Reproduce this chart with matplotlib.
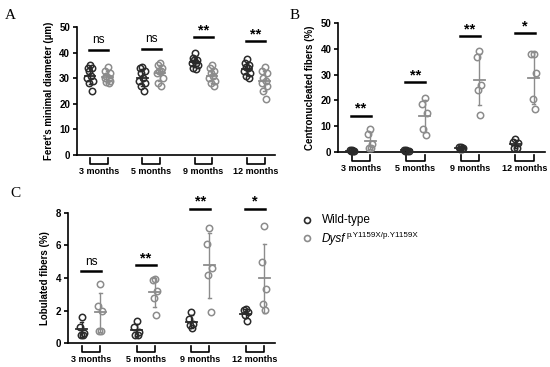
import numpy as np
import matplotlib.pyplot as plt
from matplotlib.transforms import blended_transform_factory

plt.rcParams["font.family"] = ["Liberation Sans", "DejaVu Sans"]

months = ["3 months", "5 months", "9 months", "12 months"]

# Panel A - Feret's minimal diameter (µm)
feret_wt = [
    [35, 34, 34, 33, 31, 30, 29, 28, 25],
    [34.5, 34, 33, 32, 30, 29, 28, 27, 25],
    [40, 38, 37, 37, 36, 36, 35, 34, 33.5],
    [37.5, 36, 35, 34.5, 34, 33, 32, 31, 30],
]
feret_mut = [
    [34.5, 33, 32, 31, 30, 30, 29, 28.5, 28],
    [36, 35, 34, 33, 33, 32, 30, 28, 27],
    [35, 34, 33, 32, 31, 30, 29, 28, 27],
    [34.5, 33, 32, 30, 29, 28, 27, 25, 22],
]
feret_sig = ["ns", "ns", "**", "**"]
feret_sig_y = [41, 41.5, 46, 44.5]

# Panel B - centronucleated fibers (%)
centro_wt = [
    [0.8, 0.6, 0.5, 0.4, 0.3],
    [0.9, 0.7, 0.5, 0.4, 0.3],
    [2.0, 1.8, 1.5, 1.0, 1.0],
    [5.0, 4.0, 3.5, 1.5, 1.5],
]
centro_mut = [
    [8.8, 7.0, 3.0, 1.5, 1.5],
    [21, 18.5, 15, 9, 6.5],
    [39, 37, 26, 24, 14.5],
    [38, 38, 30.5, 20.5, 16.5],
]
centro_sig = ["**", "**", "**", "*"]
centro_sig_y = [14, 27, 45, 46]

# Panel C - lobulated fibers (%)
lob_wt = [
    [1.6, 1.0, 0.6, 0.5, 0.5],
    [1.35, 1.0, 0.7, 0.5, 0.5],
    [1.9, 1.5, 1.2, 1.1, 0.9],
    [2.1, 2.05, 1.9, 1.7, 1.35],
]
lob_mut = [
    [3.65, 2.3, 2.0, 0.75, 0.75],
    [3.95, 3.85, 3.2, 2.8, 1.75],
    [7.1, 6.1, 4.6, 4.2, 1.9],
    [7.2, 5.0, 3.3, 2.4, 2.05],
]
lob_sig = ["ns", "**", "**", "*"]
lob_sig_y = [4.4, 4.8, 8.25, 8.25]

WT_COL = "#2a2a2a"
MUT_COL = "#8c8c8c"
FIG_H = 367

fig = plt.figure(figsize=(5.5, 3.67), dpi=100)


def jitter(n):
    offs = [0, -0.12, 0.12, -0.06, 0.06, -0.17, 0.17, -0.09, 0.09]
    return np.array(offs[:n])


def panel(rect, wt, mut, sig, sig_y, ymax, ystep, ylabel):
    ax = fig.add_axes(rect)
    for i in range(len(months)):
        for vals, x0, col in ((wt[i], 3 * i, WT_COL), (mut[i], 3 * i + 1, MUT_COL)):
            vals = np.array(vals, dtype=float)
            ax.plot(x0 + jitter(len(vals)), vals, "o", ms=4.6, mfc="none",
                    mec=col, mew=1.1, clip_on=False, zorder=3)
            m, s = vals.mean(), vals.std(ddof=1)
            ax.plot([x0 - 0.3, x0 + 0.3], [m, m], color=col, lw=1.3, zorder=4)
            ax.plot([x0, x0], [m - s, m + s], color=col, lw=1.0, zorder=4)
            ax.plot([x0 - 0.08, x0 + 0.08], [m - s, m - s], color=col, lw=1.0)
            ax.plot([x0 - 0.08, x0 + 0.08], [m + s, m + s], color=col, lw=1.0)
        # significance bar
        ax.plot([3 * i - 0.05, 3 * i + 1.05], [sig_y[i], sig_y[i]], color="black",
                lw=1.8, clip_on=False)
        if sig[i] == "ns":
            ax.text(3 * i + 0.5, sig_y[i] + ymax * 0.03, "ns", ha="center", va="bottom",
                    fontsize=8.5)
        else:
            ax.text(3 * i + 0.5, sig_y[i] + ymax * 0.0, sig[i], ha="center", va="bottom",
                    fontsize=10.5, fontweight="bold")

    ax.set_xlim(-0.75, 10.6)
    ax.set_ylim(0, ymax)
    ax.set_yticks(np.arange(0, ymax + ystep / 2, ystep))
    ax.set_xticks([])
    for sp in ("top", "right"):
        ax.spines[sp].set_visible(False)
    for sp in ("left", "bottom"):
        ax.spines[sp].set_linewidth(1.2)
    ax.tick_params(axis="y", length=3, width=1.2, labelsize=7, pad=2)
    for lab in ax.get_yticklabels():
        lab.set_fontweight("bold")
    ax.set_ylabel(ylabel, fontsize=7, fontweight="bold", labelpad=4)

    # group brackets under the axis
    h_px = rect[3] * FIG_H
    tr = blended_transform_factory(ax.transData, ax.transAxes)
    y1, y2, yt = -3 / h_px, -9 / h_px, -12 / h_px
    for i, lab in enumerate(months):
        a, b = 3 * i, 3 * i + 1
        ax.plot([a, a, b, b], [y1, y2, y2, y1], color="black", lw=1.2,
                transform=tr, clip_on=False)
        ax.text(3 * i + 0.5, yt, lab, ha="center", va="top", fontsize=6.5,
                fontweight="bold", transform=tr)
    return ax


panel([0.14, 0.578, 0.36, 0.348], feret_wt, feret_mut, feret_sig, feret_sig_y,
      50, 10, "Feret's minimal diameter (µm)")
panel([0.615, 0.586, 0.375, 0.351], centro_wt, centro_mut, centro_sig, centro_sig_y,
      50, 10, "Centronucleated fibers (%)")
panel([0.124, 0.065, 0.376, 0.355], lob_wt, lob_mut, lob_sig, lob_sig_y,
      8, 2, "Lobulated fibers (%)")

serif = ["Liberation Serif", "DejaVu Serif"]
fig.text(0.009, 0.975, "A", fontsize=11, family=serif, va="top")
fig.text(0.527, 0.975, "B", fontsize=11, family=serif, va="top")
fig.text(0.018, 0.49, "C", fontsize=11, family=serif, va="top")

# legend
fig.lines.append(plt.Line2D([307 / 550], [1 - 220 / FIG_H], marker="o", ms=4.3, mfc="none",
                            mec=WT_COL, mew=1.2, transform=fig.transFigure))
fig.lines.append(plt.Line2D([307 / 550], [1 - 238 / FIG_H], marker="o", ms=4.3, mfc="none",
                            mec=MUT_COL, mew=1.2, transform=fig.transFigure))
fig.text(322 / 550, 1 - 220 / FIG_H, "Wild-type", fontsize=8.5, va="center")
fig.text(322 / 550, 1 - 239 / FIG_H, "Dysf", fontsize=8.5, va="center", style="italic")
fig.text(347 / 550, 1 - 236 / FIG_H, "p.Y1159X/p.Y1159X", fontsize=5.8, va="center")

fig.savefig("out.png", dpi=100)
